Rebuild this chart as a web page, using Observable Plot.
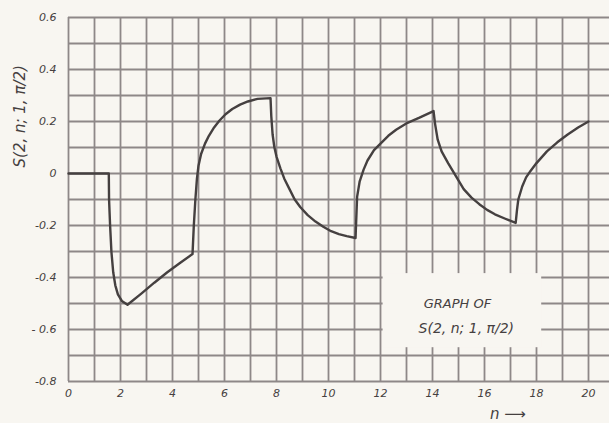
<!DOCTYPE html>
<html>
<head>
<meta charset="utf-8">
<script src="https://cdn.jsdelivr.net/npm/d3@7"></script>
<script src="https://cdn.jsdelivr.net/npm/@observablehq/plot@0.6"></script>
<style>
  html, body { margin: 0; padding: 0; background: #f8f6f1; }
  #chart svg { display: block; }
</style>
</head>
<body>
<div id="chart"></div>
<script>
// Curve: n values and S(2,n;1,π/2) values
const nValues = [0, 1.55, 1.56, 1.6, 1.65, 1.72, 1.8, 1.9, 2.05, 2.27,
  2.8, 3.3, 3.8, 4.3, 4.77,
  4.82, 4.88, 4.94, 5.0, 5.1, 5.25, 5.4, 5.6, 5.8, 6.04, 6.3, 6.6, 6.9, 7.27, 7.77,
  7.8, 7.85, 7.92, 8.0, 8.15, 8.3, 8.5, 8.7, 8.92, 9.2, 9.5, 9.8, 10.1, 10.4, 10.7, 11.04,
  11.07, 11.1, 11.2, 11.35, 11.5, 11.75, 12.0, 12.3, 12.6, 13.04, 13.5, 14.04,
  14.1, 14.2, 14.35, 14.6, 14.9, 15.2, 15.5, 15.8, 16.1, 16.4, 16.8, 17.2,
  17.25, 17.3, 17.45, 17.6, 17.77, 18.0, 18.4, 18.8, 19.2, 19.6, 20.0];
const sValues = [0, 0, -0.1, -0.2, -0.3, -0.38, -0.43, -0.465, -0.49, -0.505,
  -0.462, -0.42, -0.38, -0.343, -0.31,
  -0.2, -0.1, -0.02, 0.03, 0.075, 0.115, 0.145, 0.177, 0.203, 0.228, 0.248, 0.265, 0.277, 0.287, 0.29,
  0.22, 0.15, 0.1, 0.065, 0.02, -0.02, -0.06, -0.1, -0.13, -0.16, -0.185, -0.205, -0.222, -0.233, -0.241, -0.248,
  -0.17, -0.09, -0.03, 0.015, 0.05, 0.09, 0.115, 0.145, 0.168, 0.195, 0.215, 0.24,
  0.19, 0.13, 0.085, 0.04, -0.01, -0.06, -0.093, -0.118, -0.14, -0.157, -0.174, -0.19,
  -0.14, -0.1, -0.05, -0.015, 0.01, 0.04, 0.085, 0.12, 0.15, 0.177, 0.2];

const xTicks = [0, 2, 4, 6, 8, 10, 12, 14, 16, 18, 20];
const yTicks = [-0.8, -0.6, -0.4, -0.2, 0, 0.2, 0.4, 0.6];
const yTickLabels = ["-0.8", "- 0.6", "-0.4", "-0.2", "0", "0.2", "0.4", "0.6"];
const yLabel = "S(2, n; 1, π/2)";
const boxLines = ["GRAPH OF", "S(2, n; 1, π/2)"];
const xLabel = "n ⟶";

const curve = nValues.map((n, i) => ({n, s: sValues[i]}));
const xGrid = d3.range(0, 21);
const yGrid = d3.range(-8, 7).map(k => k / 10);

const paper = "#f8f6f1";
const gridColor = "#8e8888";
const ink = "#454040";
const textInk = "#454040";
const font = "'DejaVu Sans', sans-serif";

const chart = Plot.plot({
  width: 609,
  height: 423,
  marginLeft: 68,
  marginRight: 21,
  marginTop: 17,
  marginBottom: 42,
  x: {domain: [0, 20]},
  y: {domain: [-0.8, 0.6]},
  style: {background: paper, fontFamily: font, fontStyle: "italic", color: textInk},
  marks: [
    Plot.ruleX(xGrid, {x: d => d, y1: -0.8, y2: 0.6, stroke: gridColor, strokeWidth: 1.8}),
    Plot.ruleY(yGrid, {y: d => d, x1: 0, x2: 20.9, stroke: gridColor, strokeWidth: 1.8, clip: false}),
    Plot.rect([0], {x1: 12.1, x2: 18.2, y1: -0.385, y2: -0.67, fill: paper}),
    Plot.text([boxLines[0]], {x: 14.96, y: -0.5, text: d => d, fontSize: 13, fill: textInk, fontStyle: "italic", letterSpacing: "1px"}),
    Plot.text([boxLines[1]], {x: 15.3, y: -0.595, text: d => d, fontSize: 14, fill: textInk, fontStyle: "italic"}),
    Plot.line(curve, {x: "n", y: "s", stroke: ink, strokeWidth: 2.4, strokeLinejoin: "round"}),
    Plot.axisX({ticks: xTicks, tickSize: 0, tickPadding: 8, fontSize: 11, label: null}),
    Plot.axisY({ticks: yTicks, tickSize: 0, tickPadding: 12, fontSize: 11, label: null,
      tickFormat: d => yTickLabels[yTicks.indexOf(d)]}),
    Plot.text([yLabel], {x: 0, y: 0.22, dx: -48, rotate: -90, text: d => d, fontSize: 15, fill: textInk, clip: false}),
    Plot.text([xLabel], {x: 16.9, y: -0.925, text: d => d, fontSize: 15, fill: textInk, clip: false})
  ]
});
document.getElementById("chart").append(chart);
</script>
</body>
</html>
